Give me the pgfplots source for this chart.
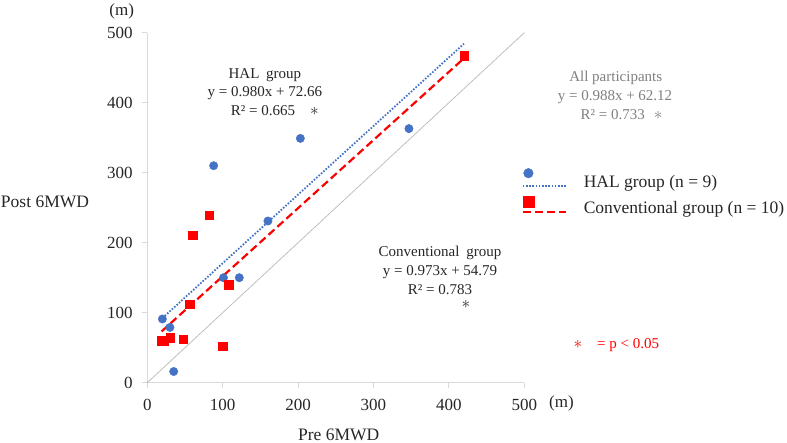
\documentclass[border=0pt]{standalone}
\usepackage{fontspec}
\setmainfont{Liberation Serif}
\usepackage{pgfplots}
\pgfplotsset{compat=1.18}
\definecolor{halblue}{RGB}{68,114,196}
\definecolor{convred}{RGB}{255,0,0}
\definecolor{axgray}{RGB}{217,217,217}
\definecolor{idgray}{RGB}{191,191,191}
\definecolor{txtgray}{RGB}{127,127,127}
\definecolor{txtdark}{RGB}{38,38,38}
\newcommand{\bigast}{\smash{\fontsize{17}{17}\selectfont$\ast$}}
\begin{document}
\begin{tikzpicture}[
  ann/.style={inner sep=0pt, font=\fontsize{15}{15}\selectfont, text=txtdark},
  lab/.style={inner sep=0pt, font=\fontsize{17.5}{17.5}\selectfont, text=txtdark}]
\path[use as bounding box] (-147.3pt,-60.3pt) rectangle (639.7pt,382.7pt);
\begin{axis}[
  width=377pt, height=350pt, scale only axis,
  xmin=0, xmax=500, ymin=0, ymax=500,
  axis x line*=bottom, axis y line*=left,
  axis line style={-, axgray, line width=0.9pt},
  xtick={0,100,...,500}, ytick={0,100,...,500},
  tick align=outside, major tick length=5pt,
  tick style={axgray, line width=0.9pt},
  /pgf/number format/assume math mode=true,
  ticklabel style={font=\fontsize{17}{17}\selectfont, text=txtdark},
  xticklabel style={anchor=center, inner sep=0pt, yshift=-17pt},
  yticklabel style={anchor=east, inner sep=0pt, xshift=-9.5pt},
  clip=false,
  legend style={at={(0.9931,0.5363)}, anchor=west, draw=none, fill=none,
    inner sep=0pt, outer sep=0pt, row sep=0pt,
    font=\fontsize{17.5}{17.5}\selectfont, text=txtdark,
    nodes={inner sep=0pt}},
  legend cell align=left,
]
% identity line
\addplot[idgray, line width=0.8pt, forget plot] coordinates {(0,0) (500,500)};
% HAL group data
\addplot[only marks, mark=*, mark size=4.2pt, color=halblue, forget plot] coordinates {
  (20,91) (30,79) (35,16) (88,310) (101,150) (122,150) (160,231) (203,349) (347,363)};
% Conventional group data
\addplot[only marks, mark=square*, mark size=4.2pt, color=convred, forget plot] coordinates {
  (19,60) (22,60) (30,64) (48,62) (56,112) (60,211) (82,239) (100,52) (108,140) (420,467)};
% trend lines
\addplot[halblue, line width=1.8pt, dash pattern=on 1.6pt off 1.6pt, forget plot] coordinates {(20,92.26) (420,484.26)};
\addplot[convred, line width=2.2pt, dash pattern=on 8pt off 4pt, forget plot] coordinates {(19,73.28) (420,463.45)};

\addlegendimage{legend image code/.code={
  \path[draw=none, fill=none] (0pt,-13.3pt) rectangle (61pt,13.3pt);
  \draw[halblue, line width=1.8pt, dash pattern=on 1.6pt off 1.6pt] (0pt,-4.3pt) -- (43.3pt,-4.3pt);
  \fill[halblue] (5.6pt,8.7pt) circle (4.8pt);}}
\addlegendentry{HAL group (n = 9)}
\addlegendimage{legend image code/.code={
  \path[draw=none, fill=none] (0pt,-13.3pt) rectangle (61pt,13.3pt);
  \draw[convred, line width=2.2pt, dash pattern=on 8pt off 4pt] (0pt,-3.4pt) -- (43.3pt,-3.4pt);
  \fill[convred] (0.6pt,1.3pt) rectangle (11.2pt,11.9pt);}}
\addlegendentry{Conventional group (n = 10)}

% axis titles and units
\node[lab, font=\fontsize{17}{17}\selectfont] at (axis cs:-34,530) {(m)};
\node[lab, font=\fontsize{17}{17}\selectfont] at (axis cs:549.3,-29) {(m)};
\node[lab] at (axis cs:-135.7,258.6) {Post 6MWD};
\node[lab] at (axis cs:253.8,-74) {Pre 6MWD};

% HAL group annotation
\node[ann] at (axis cs:156,439.6) {HAL\hspace{0.45em}group};
\node[ann] at (axis cs:156,414.3) {y = 0.980x + 72.66};
\node[ann, anchor=west] at (axis cs:110.6,388.1) {R² = 0.665\hspace{1em}\bigast};

% All participants annotation
\node[ann, text=txtgray] at (axis cs:621.3,434.9) {All participants};
\node[ann, text=txtgray] at (axis cs:620.3,408.6) {y = 0.988x + 62.12};
\node[ann, text=txtgray] at (axis cs:629,382.4) {R² = 0.733\hspace{0.6em}\bigast};

% Conventional group annotation
\node[ann] at (axis cs:388.2,184.9) {Conventional\hspace{0.45em}group};
\node[ann] at (axis cs:388.2,158.6) {y = 0.973x + 54.79};
\node[ann] at (axis cs:388.2,133.4) {R² = 0.783};
\node[ann] at (axis cs:422.7,105.5) {\bigast};

% significance note
\node[ann, text=convred] at (axis cs:622,53.9) {\bigast\hspace{1em}= p < 0.05};
\end{axis}
\end{tikzpicture}
\end{document}
